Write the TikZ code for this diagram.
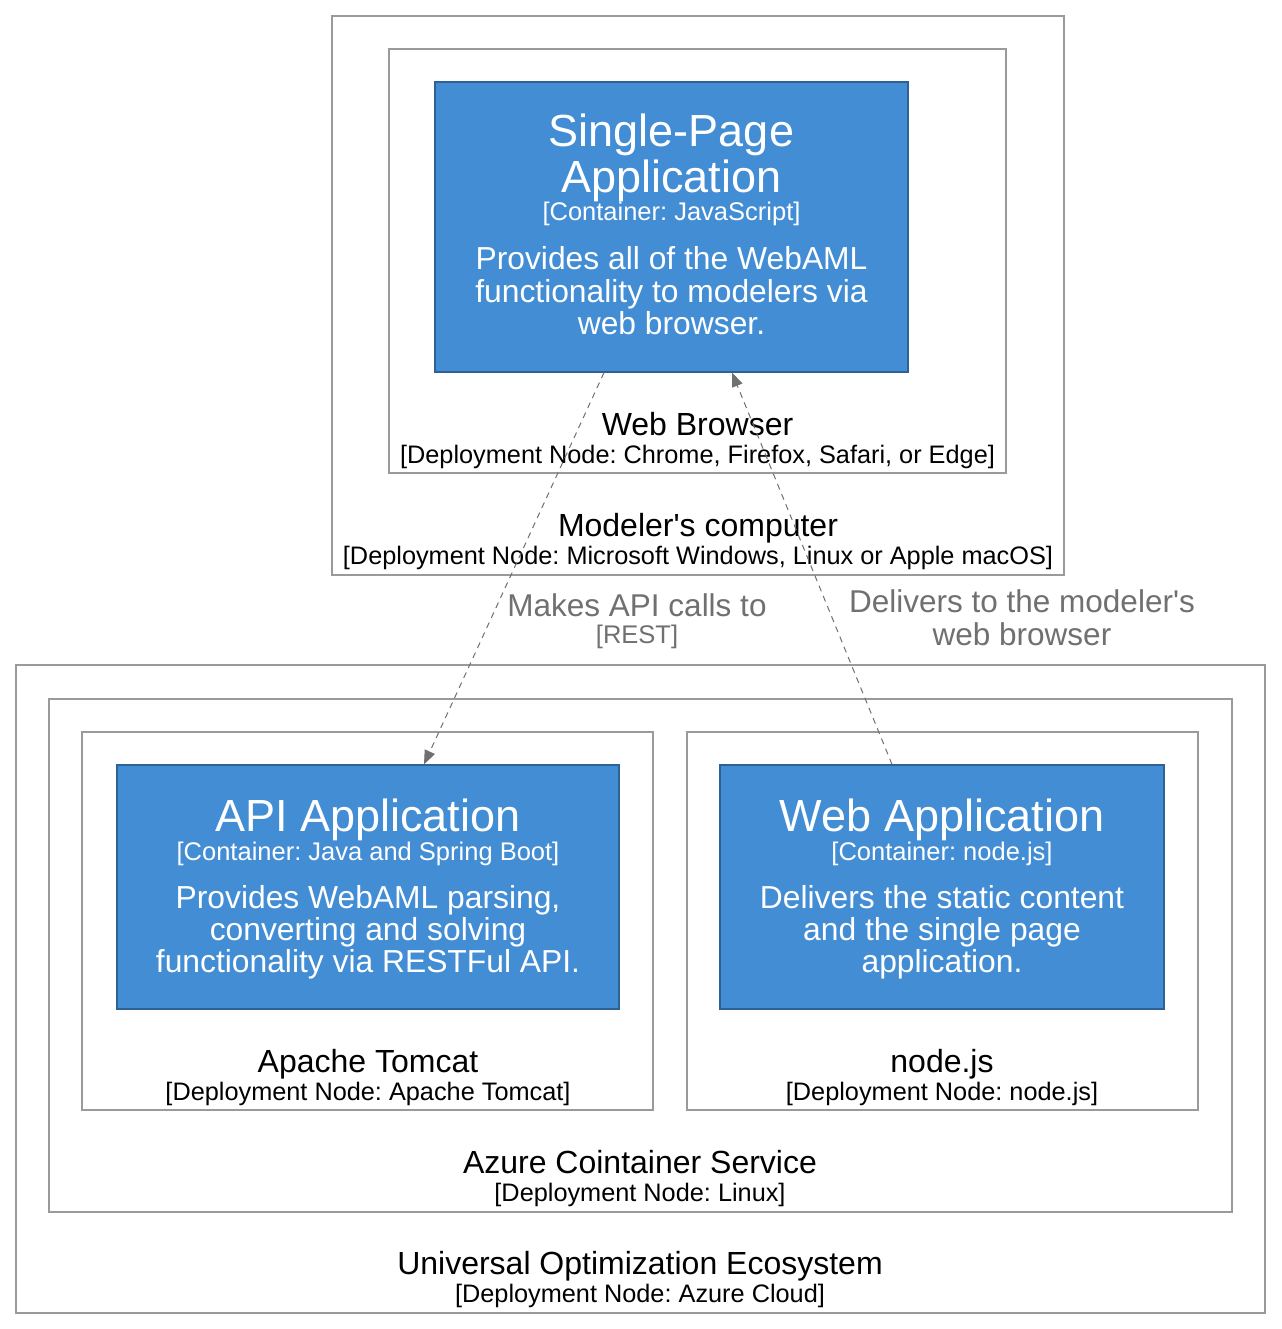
\documentclass[tikz,border=0pt]{standalone}
\usepackage{fontspec}
\setmainfont{Liberation Sans}[Ligatures=TeXOff]
\usetikzlibrary{arrows.meta}
\frenchspacing
\definecolor{cblue}{HTML}{438DD5}
\definecolor{cblueb}{HTML}{2E6295}
\definecolor{dgray}{HTML}{9A9A9A}
\definecolor{egray}{HTML}{707070}
\newcommand\ctitlefont{\fontsize{45pt}{45pt}\selectfont}
\newcommand\csubfont{\fontsize{25.5pt}{26pt}\selectfont}
\newcommand\cdescfont{\fontsize{31.8pt}{32pt}\selectfont}
\newcommand\dtitlefont{\fontsize{32pt}{32pt}\selectfont}
\newcommand\dsubfont{\fontsize{25.3pt}{26pt}\selectfont}
\newcommand\etitlefont{\fontsize{31.5pt}{32pt}\selectfont}
\tikzset{
  dbox/.style={draw=dgray, line width=1.2pt, fill=white, inner sep=0pt},
  cbox/.style={draw=cblueb, line width=1.2pt, fill=cblue, inner sep=0pt},
  txt/.style={anchor=base, inner sep=0pt, outer sep=0pt},
  ctitle/.style={txt, text=white, font=\ctitlefont},
  csub/.style={txt, text=white, font=\csubfont},
  cdesc/.style={txt, text=white, font=\cdescfont},
  dtitle/.style={txt, text=black, font=\dtitlefont},
  dsub/.style={txt, text=black, font=\dsubfont},
  elabel/.style={txt, text=egray, font=\etitlefont},
  esub/.style={txt, text=egray, font=\csubfont},
  edge/.style={draw=egray, line width=1pt, dash pattern=on 6pt off 5pt,
    -{Triangle[length=14pt,width=11pt,fill=egray]}},
}
\begin{document}
\begin{tikzpicture}[x=1pt,y=-1pt]
\useasboundingbox[fill=white] (0,0) rectangle (1281,1329);

% deployment boxes
\node[dbox, minimum width=732pt, minimum height=559pt] (modeler) at (698,295.5) {};
\node[dbox, minimum width=617pt, minimum height=424pt] (browser) at (697.5,261) {};
\node[cbox, minimum width=473pt, minimum height=290pt] (spa) at (671.5,227) {};

\node[dbox, minimum width=1249pt, minimum height=648pt] (universal) at (640.5,989) {};
\node[dbox, minimum width=1183pt, minimum height=513pt] (azure) at (640.5,955.5) {};
\node[dbox, minimum width=571pt, minimum height=378pt] (tomcat) at (367.5,921) {};
\node[dbox, minimum width=511pt, minimum height=378pt] (nodejs) at (942.5,921) {};
\node[cbox, minimum width=502pt, minimum height=244pt] (api) at (368,887) {};
\node[cbox, minimum width=444pt, minimum height=244pt] (webapp) at (942,887) {};

% SPA text
\node[ctitle] (spat1) at (671.5,147) {Single-Page};
\node[ctitle] (spat2) at (671.5,193) {Application};
\node[csub] (spas) at (671.5,221) {[Container: JavaScript]};
\node[cdesc] (spad1) at (671.5,270) {Provides all of the WebAML};
\node[cdesc] (spad2) at (671.5,302) {functionality to modelers via};
\node[cdesc] (spad3) at (671.5,334) {web browser.};

% API text
\node[ctitle] (apit) at (368,831) {API Application};
\node[csub] (apis) at (368,860) {[Container: Java and Spring Boot]};
\node[cdesc] (apid1) at (368,908) {Provides WebAML parsing,};
\node[cdesc] (apid2) at (368,940) {converting and solving};
\node[cdesc] (apid3) at (368,972) {functionality via RESTFul API.};

% Web app text
\node[ctitle] (webt) at (942,831) {Web Application};
\node[csub] (webs) at (942,860) {[Container: node.js]};
\node[cdesc] (webd1) at (942,908) {Delivers the static content};
\node[cdesc] (webd2) at (942,940) {and the single page};
\node[cdesc] (webd3) at (942,972) {application.};

% deployment labels
\node[dtitle] (browsert) at (697.5,435) {Web Browser};
\node[dsub] (browsers) at (697.5,463) {[Deployment Node: Chrome, Firefox, Safari, or Edge]};
\node[dtitle] (modelert) at (698,536) {Modeler's computer};
\node[dsub] (modelers) at (698,564) {[Deployment Node: Microsoft Windows, Linux or Apple macOS]};
\node[dtitle] (tomcatt) at (368,1072) {Apache Tomcat};
\node[dsub] (tomcats) at (368,1100) {[Deployment Node: Apache Tomcat]};
\node[dtitle] (nodejst) at (942,1072) {node.js};
\node[dsub] (nodejss) at (942,1100) {[Deployment Node: node.js]};
\node[dtitle] (azuret) at (640,1173) {Azure Cointainer Service};
\node[dsub] (azures) at (640,1201) {[Deployment Node: Linux]};
\node[dtitle] (universalt) at (640,1274) {Universal Optimization Ecosystem};
\node[dsub] (universals) at (640,1302) {[Deployment Node: Azure Cloud]};

% edges
\draw[edge] ([xshift=-67.5pt]spa.south) -- ([xshift=56pt]api.north);
\draw[edge] ([xshift=-50pt]webapp.north) -- ([xshift=60.5pt]spa.south);

% edge labels
\node[elabel] (e1a) at (637,616) {Makes API calls to};
\node[esub] (e1b) at (637,643) {[REST]};
\node[elabel] (e2a) at (1022,612) {Delivers to the modeler's};
\node[elabel] (e2b) at (1022,645) {web browser};
\end{tikzpicture}
\end{document}
